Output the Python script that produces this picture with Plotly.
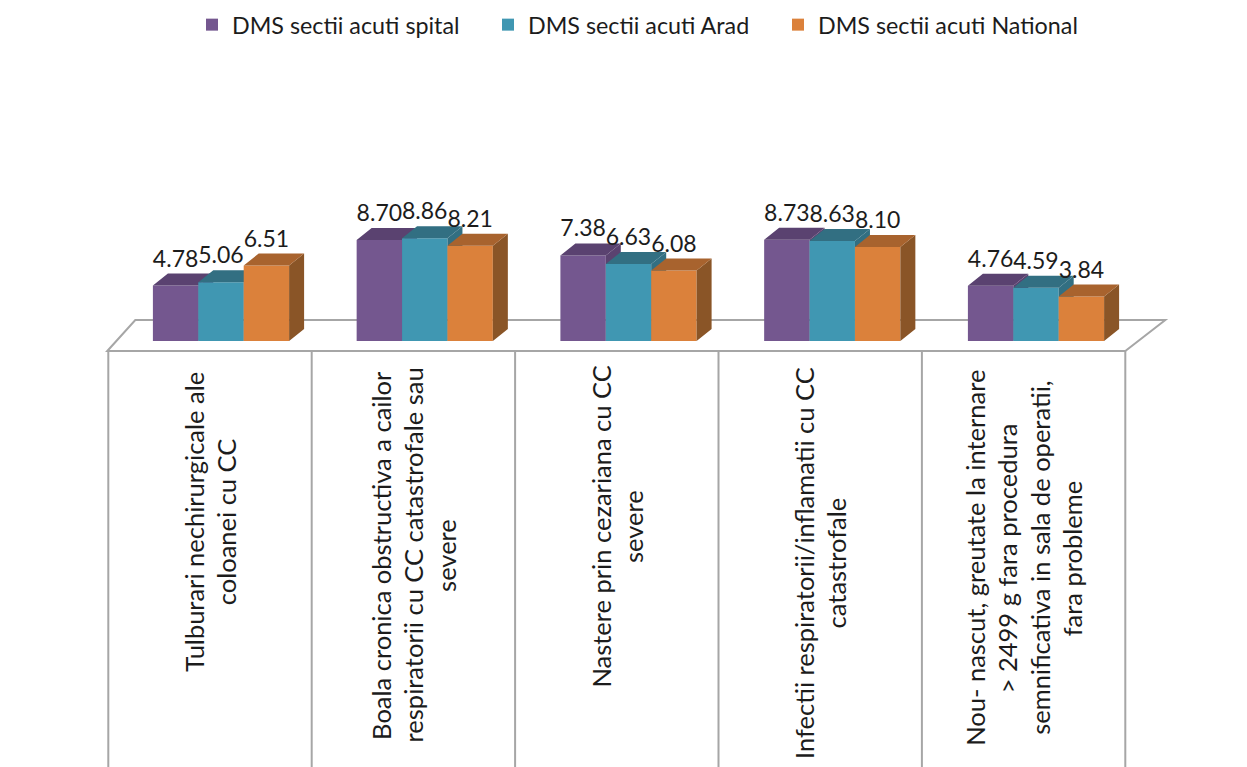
import plotly.graph_objs as go

categories = [
    ["Tulburari nechirurgicale ale", "coloanei cu CC"],
    ["Boala cronica obstructiva a cailor", "respiratorii cu CC catastrofale sau", "severe"],
    ["Nastere prin cezariana cu CC", "severe"],
    ["Infectii respiratorii/inflamatii cu CC", "catastrofale"],
    ["Nou- nascut, greutate la internare", "> 2499 g fara procedura",
     "semnificativa in sala de operatii,", "fara probleme"],
]
series_names = ["DMS sectii acuti spital", "DMS sectii acuti Arad", "DMS sectii acuti National"]
spital = [4.78, 8.70, 7.38, 8.73, 4.76]
arad = [5.06, 8.86, 6.63, 8.63, 4.59]
national = [6.51, 8.21, 6.08, 8.10, 3.84]

front_colors = ["#74578f", "#4097b2", "#db813b"]
top_colors = ["#5a4270", "#326f82", "#a8632e"]
side_colors = ["#5a4270", "#326f82", "#8a5527"]
grid_color = "#a6a6a6"
text_color = "#1c1c1c"
font_name = "Lato"

# pixel scale of the picture, used to set up the axes
width = 1247
height = 767
px_per_cat = 203.4
px_per_unit = 11.6
first_cat_px = 210
base_px = 341


def y_from_px(py):
    return (base_px - py) / px_per_unit


bar_w = 45.4 / px_per_cat
bar_step = 203.75 / px_per_cat
bar_shift = 11 / px_per_cat
depth_x = 15 / px_per_cat
depth_y = 12 / px_per_unit

x_range = [-first_cat_px / px_per_cat, (width - first_cat_px) / px_per_cat]
y_range = [y_from_px(height), y_from_px(0)]

fig = go.Figure()
all_series = [spital, arad, national]
legend_ids = ["legend", "legend2", "legend3"]


def bar_positions(s, values):
    return [i * bar_step + bar_shift + (s - 1) * bar_w for i in range(len(values))]


# every series sits on its own overlaid axes so later bars hide earlier side faces
for s, values in enumerate(all_series):
    suffix = "" if s == 0 else str(s + 1)
    xs = bar_positions(s, values)

    fig.add_trace(go.Bar(
        x=xs, y=values, width=bar_w, name=series_names[s],
        marker=dict(color=front_colors[s], line=dict(width=0)),
        xaxis="x" + suffix, yaxis="y" + suffix, legend=legend_ids[s],
    ))

    top_x, top_y, side_x, side_y = [], [], [], []
    for x, v in zip(xs, values):
        left = x - bar_w / 2
        right = x + bar_w / 2
        top_x += [left, right, right + depth_x, left + depth_x, left, None]
        top_y += [v, v, v + depth_y, v + depth_y, v, None]
        side_x += [right, right + depth_x, right + depth_x, right, right, None]
        side_y += [0, depth_y, v + depth_y, v, 0, None]
    fig.add_trace(go.Scatter(
        x=side_x, y=side_y, mode="lines", fill="toself", fillcolor=side_colors[s],
        line=dict(width=0), showlegend=False, hoverinfo="skip",
        xaxis="x" + suffix, yaxis="y" + suffix,
    ))
    fig.add_trace(go.Scatter(
        x=top_x, y=top_y, mode="lines", fill="toself", fillcolor=top_colors[s],
        line=dict(width=0), showlegend=False, hoverinfo="skip",
        xaxis="x" + suffix, yaxis="y" + suffix,
    ))

# value labels go on the last overlay, above all the bars
for s, values in enumerate(all_series):
    fig.add_trace(go.Scatter(
        x=bar_positions(s, values), y=[v + depth_y * 1.1 for v in values], mode="text",
        text=["%.2f" % v for v in values], textposition="top center",
        textfont=dict(family=font_name, size=23, color=text_color),
        showlegend=False, hoverinfo="skip", xaxis="x3", yaxis="y3",
    ))

# floor and table lines
floor_front = y_from_px(351)
floor_back = y_from_px(320)
n = len(categories)
line = dict(color=grid_color, width=2)
shapes = [dict(
    type="path", xref="x", yref="y", layer="below", line=line,
    path="M %f %f L %f %f L %f %f L %f %f Z" % (
        -0.5 - 1 / px_per_cat, floor_front,
        -0.5 + 27 / px_per_cat, floor_back,
        n - 0.5 + 40 / px_per_cat, floor_back,
        n - 0.5, floor_front),
)]
for k in range(n + 1):
    shapes.append(dict(
        type="line", xref="x", yref="y", layer="below", line=line,
        x0=k - 0.5, x1=k - 0.5, y0=floor_front, y1=y_range[0],
    ))

# category labels, one annotation per line because of the wide line pitch
label_mid_px = [522, 555, 527, 563, 558]
line_pitch = 32.5 / px_per_cat
annotations = []
for i, lines in enumerate(categories):
    for k, txt in enumerate(lines):
        annotations.append(dict(
            x=i + (k - (len(lines) - 1) / 2) * line_pitch, y=y_from_px(label_mid_px[i]),
            xref="x", yref="y", text=txt, textangle=-90, showarrow=False,
            xanchor="center", yanchor="middle",
            font=dict(family=font_name, size=25.5, color=text_color),
        ))

axis_x = dict(range=x_range, visible=False, fixedrange=True)
axis_y = dict(range=y_range, visible=False, fixedrange=True)


def legend_at(left_px):
    return dict(
        orientation="h", x=left_px / width, xanchor="left", y=1 - 25 / height, yanchor="middle",
        font=dict(family=font_name, size=23.3, color=text_color),
    )


fig.update_layout(
    width=width, height=height,
    margin=dict(l=0, r=0, t=0, b=0),
    paper_bgcolor="white", plot_bgcolor="white",
    barmode="overlay",
    shapes=shapes, annotations=annotations,
    xaxis=axis_x, yaxis=axis_y,
    xaxis2=dict(axis_x, overlaying="x"), yaxis2=dict(axis_y, overlaying="y"),
    xaxis3=dict(axis_x, overlaying="x"), yaxis3=dict(axis_y, overlaying="y"),
    legend=legend_at(192),
    legend2=legend_at(488),
    legend3=legend_at(778),
)

# the page's default body margin would push the chart 8px off
fig.write_html("out.html", config=dict(displayModeBar=False),
               post_script="document.body.style.margin='0';")
